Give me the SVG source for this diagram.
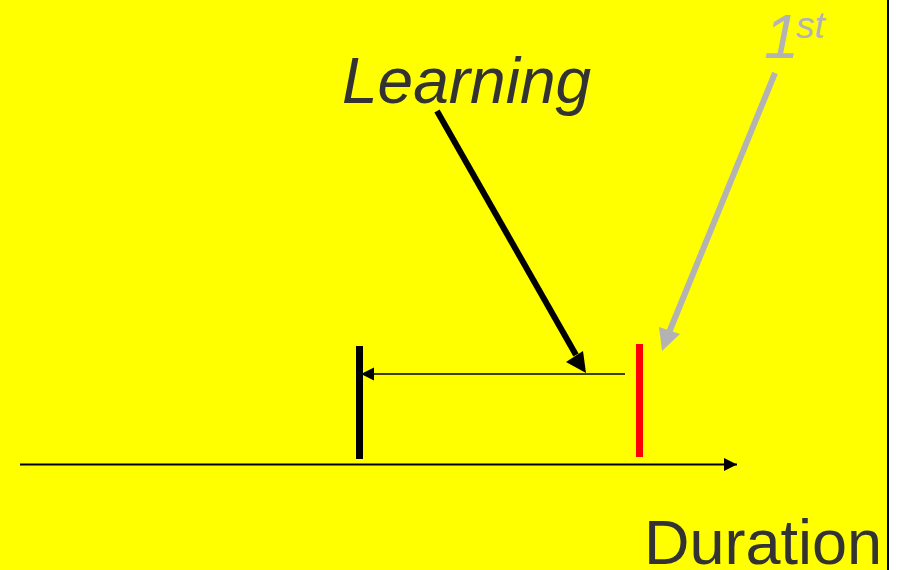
<svg xmlns="http://www.w3.org/2000/svg" width="903" height="570" viewBox="0 0 903 570">
<defs>
<style>
.lbl{font-family:"Liberation Sans",Arial,sans-serif;fill:#333333}
.it{font-style:italic}
</style>
<marker id="ahs" viewBox="0 0 10 10" refX="10" refY="5" markerWidth="13" markerHeight="15" markerUnits="userSpaceOnUse" orient="auto"><path d="M0,0 L10,5 L0,10 z" fill="#000"/></marker>
</defs>
<rect x="0" y="0" width="903" height="570" fill="#ffffff"/>
<rect x="0" y="0" width="887" height="570" fill="#ffff00"/>
<line x1="888" y1="0" x2="888" y2="570" stroke="#000" stroke-width="2"/>
<g id="connectors">
<line x1="20" y1="464.5" x2="737" y2="464.5" stroke="#000" stroke-width="2" marker-end="url(#ahs)"/>
<line x1="625" y1="374" x2="361" y2="374" stroke="#000" stroke-width="1.5" marker-end="url(#ahs)"/>
<line x1="437" y1="111" x2="576" y2="355" stroke="#000" stroke-width="6"/>
<polygon points="586,373 566,362 583,351" fill="#000"/>
<line x1="775" y1="73" x2="668" y2="335" stroke="#b3b3b3" stroke-width="6"/>
<polygon points="662,351 659,327 680,334" fill="#b3b3b3"/>
</g>
<g id="black-bar"><rect x="356" y="346" width="7" height="113" fill="#000"/></g>
<g id="red-bar"><rect x="636" y="344" width="7" height="113" fill="#ff0000"/></g>
<g id="learning"><text class="lbl it" x="342" y="103" font-size="64">Learning</text></g>
<g id="first"><text class="it" x="764" y="58" font-size="63" font-family="Liberation Sans,Arial,sans-serif" fill="#b3b3b3">1<tspan font-size="37" dx="-3" dy="-20">st</tspan></text></g>
<g id="duration"><text class="lbl" x="644" y="564" font-size="63">Duration</text></g>
</svg>
